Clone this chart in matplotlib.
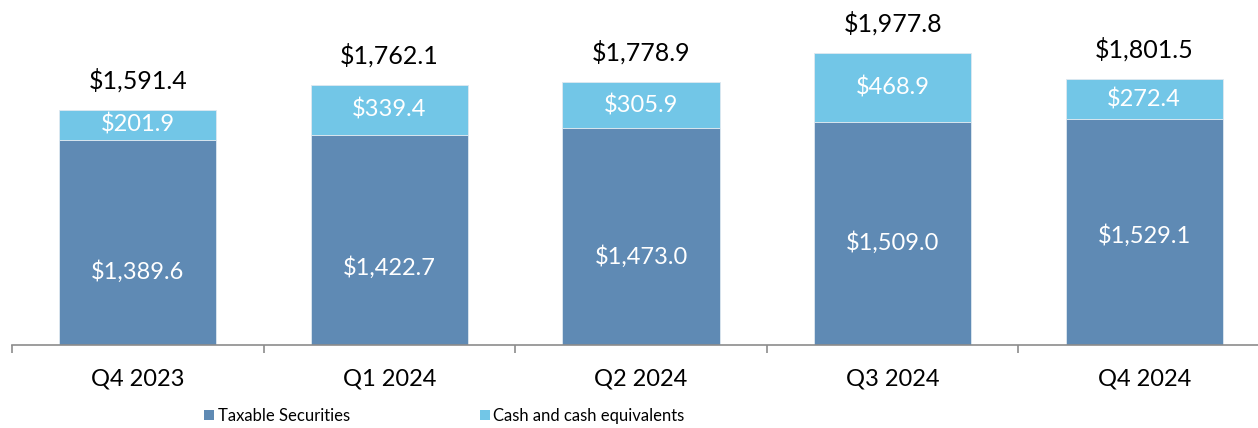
import matplotlib
matplotlib.use('Agg')

import matplotlib.pyplot as plt
import numpy as np
from matplotlib.patches import Patch

plt.rcParams.update({
    'font.family': ['Lato', 'DejaVu Sans'],
    'font.size': 17,
})

quarters = ['Q4 2023', 'Q1 2024', 'Q2 2024', 'Q3 2024', 'Q4 2024']
taxable = np.array([1389.6, 1422.7, 1473.0, 1509.0, 1529.1])
cash = np.array([201.9, 339.4, 305.9, 468.9, 272.4])
totals = np.array([1591.4, 1762.1, 1778.9, 1977.8, 1801.5])
colors = ['#5f8ab4', '#72c6e7']

# where the bottom-segment labels sit, as a share of the segment height
inner_label_frac = [0.356, 0.367, 0.405, 0.458, 0.487]

W, H = 1258, 428
fig = plt.figure(figsize=(W / 100, H / 100), dpi=100)
# axis runs from x=12 px to past the right edge, baseline at y=345 px
ax = fig.add_axes([12 / W, (H - 345) / H, 1258 / W, 345 / H])

x = np.arange(len(quarters))
bw = 0.625
ax.bar(x, taxable, bw, color=colors[0], edgecolor='#dfe8f0', linewidth=0.6)
ax.bar(x, cash, bw, bottom=taxable, color=colors[1], edgecolor='#dfe8f0', linewidth=0.6)

for i in range(len(x)):
    ax.text(x[i], taxable[i] * inner_label_frac[i], f'${taxable[i]:,.1f}',
            ha='center', va='center', color='white', fontsize=17)
    ax.text(x[i], taxable[i] + cash[i] / 2, f'${cash[i]:,.1f}',
            ha='center', va='center', color='white', fontsize=17)
    ax.annotate(f'${totals[i]:,.1f}', (x[i], totals[i]), xytext=(0, 21.5),
                textcoords='offset points', ha='center', va='center',
                color='black', fontsize=18)

ax.set_xlim(-0.5, len(quarters) - 0.5)
ax.set_ylim(0, 345 / 0.1476)

for s in ['top', 'right', 'left']:
    ax.spines[s].set_visible(False)
ax.spines['bottom'].set_color('#8c8c8c')
ax.spines['bottom'].set_linewidth(1.2)
ax.set_yticks([])

ax.set_xticks(x)
ax.set_xticklabels(quarters, fontsize=17)
ax.tick_params(axis='x', which='major', length=0, pad=17)
ax.set_xticks(np.arange(-0.5, len(quarters)), minor=True)
ax.tick_params(axis='x', which='minor', length=6, width=1.2, color='#8c8c8c', direction='out')

handles = [Patch(facecolor=colors[0]), Patch(facecolor=colors[1])]
fig.legend(handles, ['Taxable Securities', 'Cash and cash equivalents'],
           loc='center', bbox_to_anchor=(444.5 / W, (H - 416) / H), ncol=2,
           frameon=False, fontsize=12, handlelength=0.6, handleheight=0.6,
           handletextpad=0.2, columnspacing=7.8, borderpad=0, borderaxespad=0)

fig.savefig('out.png', dpi=100)
plt.close()
